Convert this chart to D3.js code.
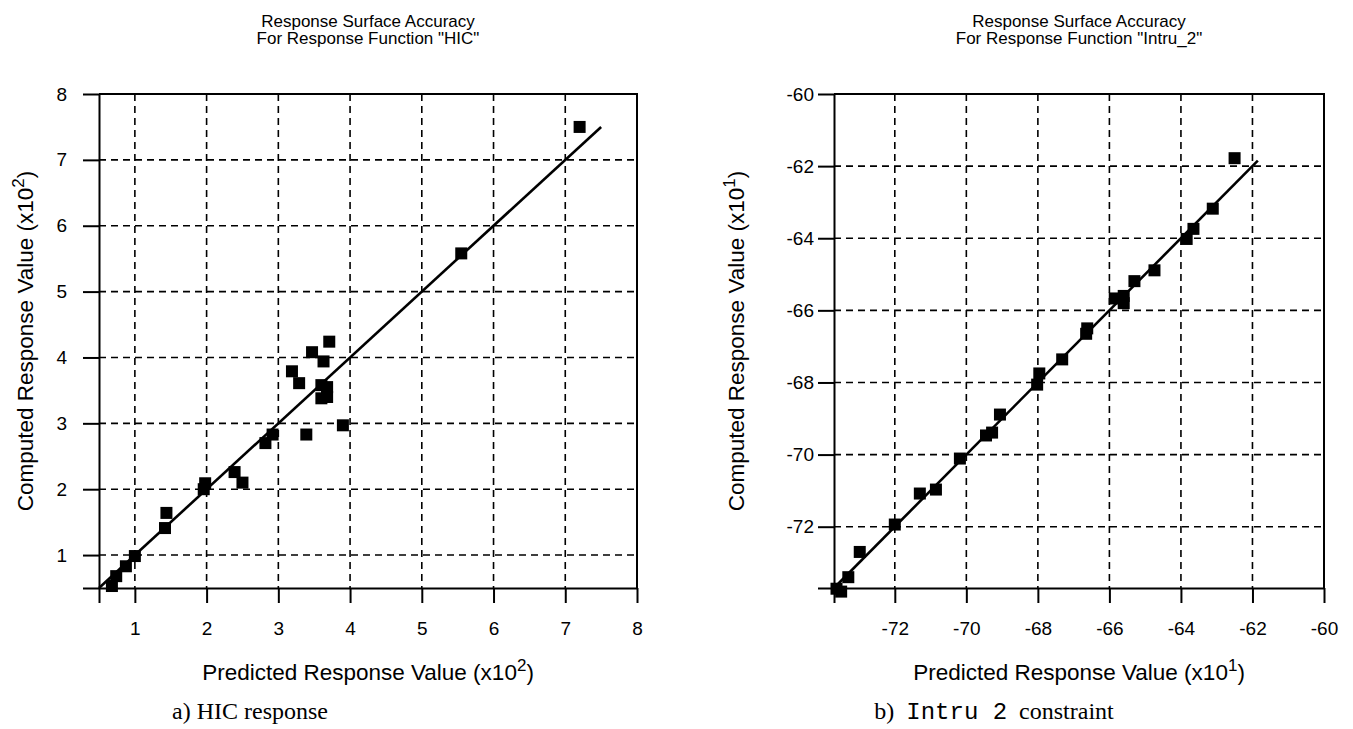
<!DOCTYPE html>
<html>
<head>
<meta charset="utf-8">
<script src="https://cdn.jsdelivr.net/npm/d3@7"></script>
<style>
  html, body { margin: 0; padding: 0; background: #fff; }
  svg { display: block; }
  text { font-family: "Liberation Sans", Arial, Helvetica, sans-serif; fill: #000; }
</style>
</head>
<body>
<svg id="chart" width="1353" height="729"></svg>
<script>
// ---------- Data ----------
const hicPredicted = [0.68, 0.74, 0.875, 1.0, 1.42, 1.44, 1.96, 1.98, 2.39, 2.5, 2.82, 2.92, 3.19, 3.29, 3.39, 3.47, 3.6, 3.6, 3.63, 3.68, 3.68, 3.71, 3.9, 5.55, 7.2];
const hicComputed  = [0.53, 0.68, 0.83, 0.985, 1.41, 1.64, 2.0, 2.09, 2.26, 2.1, 2.70, 2.83, 3.79, 3.61, 2.83, 4.08, 3.58, 3.38, 3.94, 3.55, 3.40, 4.24, 2.97, 5.58, 7.5];
const hicFitLine = [0.5, 7.5];
const hicTicks = [0.5, 1, 2, 3, 4, 5, 6, 7, 8];
const hicGrid = [1, 2, 3, 4, 5, 6, 7];

const intruPredicted = [-73.63, -73.5, -73.3, -72.98, -72.0, -71.3, -70.85, -70.18, -69.45, -69.28, -69.06, -68.02, -67.96, -67.32, -66.65, -66.62, -65.85, -65.6, -65.6, -65.3, -64.74, -63.84, -63.65, -63.11, -62.5];
const intruComputed  = [-73.72, -73.8, -73.4, -72.7, -71.94, -71.08, -70.97, -70.11, -69.47, -69.39, -68.89, -68.06, -67.75, -67.36, -66.65, -66.5, -65.67, -65.6, -65.8, -65.19, -64.89, -64.02, -63.74, -63.18, -61.78];
const intruFitLine = [-73.7, -61.85];
const intruTicks = [-73.7, -72, -70, -68, -66, -64, -62, -60];
const intruGrid = [-72, -70, -68, -66, -64, -62];

const titles1 = ["Response Surface Accuracy", "For Response Function \"HIC\""];
const titles2 = ["Response Surface Accuracy", "For Response Function \"Intru_2\""];

// ---------- Drawing ----------
const svg = d3.select("#chart");

function panel(opt) {
  const g = svg.append("g");
  const x = d3.scaleLinear().domain(opt.domain).range([opt.left, opt.right]);
  const y = d3.scaleLinear().domain(opt.domain).range([opt.bottom, opt.top]);
  const lbl = v => (opt.labelled.includes(v) ? String(v) : "");

  // grid
  g.selectAll(".vg").data(opt.grid).enter().append("line")
    .attr("x1", d => x(d)).attr("x2", d => x(d))
    .attr("y1", opt.top).attr("y2", opt.bottom)
    .attr("stroke", "#000").attr("stroke-width", 1.6).attr("stroke-dasharray", "7,5");
  g.selectAll(".hg").data(opt.grid).enter().append("line")
    .attr("y1", d => y(d)).attr("y2", d => y(d))
    .attr("x1", opt.left).attr("x2", opt.right)
    .attr("stroke", "#000").attr("stroke-width", 1.6).attr("stroke-dasharray", "7,5");

  // frame top & right
  g.append("line").attr("x1", opt.left).attr("x2", opt.right + 1).attr("y1", opt.top).attr("y2", opt.top)
    .attr("stroke", "#000").attr("stroke-width", 2);
  g.append("line").attr("x1", opt.right).attr("x2", opt.right).attr("y1", opt.top).attr("y2", opt.bottom)
    .attr("stroke", "#000").attr("stroke-width", 2);

  // axes
  const xa = g.append("g").attr("transform", `translate(0,${opt.bottom})`)
    .call(d3.axisBottom(x).tickValues(opt.ticks).tickSize(15).tickSizeOuter(0).tickPadding(19).tickFormat(lbl));
  const ya = g.append("g").attr("transform", `translate(${opt.left},0)`)
    .call(d3.axisLeft(y).tickValues(opt.ticks).tickSize(16).tickSizeOuter(0).tickPadding(opt.yPad).tickFormat(lbl));
  [xa, ya].forEach(a => {
    a.select(".domain").attr("stroke-width", 2);
    a.selectAll(".tick line").attr("stroke-width", 2);
    a.selectAll(".tick text").style("font-size", "19px").style("font-family", "\"Liberation Sans\", Arial, sans-serif");
  });

  // fit line
  g.append("line")
    .attr("x1", x(opt.fit[0])).attr("y1", y(opt.fit[0]))
    .attr("x2", x(opt.fit[1])).attr("y2", y(opt.fit[1]))
    .attr("stroke", "#000").attr("stroke-width", 2.6);

  // points
  const s = 12;
  g.selectAll(".pt").data(opt.px.map((v, i) => [v, opt.py[i]])).enter().append("rect")
    .attr("x", d => x(d[0]) - s / 2).attr("y", d => y(d[1]) - s / 2)
    .attr("width", s).attr("height", s).attr("fill", "#000");

  const cx = (opt.left + opt.right) / 2;
  const cy = (opt.top + opt.bottom) / 2;

  // title
  opt.title.forEach((t, i) => {
    g.append("text").attr("x", cx).attr("y", 27 + i * 17).attr("text-anchor", "middle")
      .style("font-size", "17px").text(t);
  });

  // x label
  const xl = g.append("text").attr("x", cx).attr("y", 680).attr("text-anchor", "middle").style("font-size", "22.5px");
  xl.append("tspan").text(`Predicted Response Value (x10`);
  xl.append("tspan").attr("dy", -9).style("font-size", "17px").text(opt.exp);
  xl.append("tspan").attr("dy", 9).text(")");

  // y label
  const yl = g.append("text").attr("transform", `translate(${opt.yLabelX},${cy}) rotate(-90)`)
    .attr("text-anchor", "middle").style("font-size", "22.5px");
  yl.append("tspan").text(`Computed Response Value (x10`);
  yl.append("tspan").attr("dy", -9).style("font-size", "17px").text(opt.exp);
  yl.append("tspan").attr("dy", 9).text(")");

  // caption
  const cap = g.append("text").attr("x", opt.capX).attr("y", 719).attr("text-anchor", "middle")
    .style("font-family", "\"Liberation Serif\", \"Times New Roman\", serif").style("font-size", "24px");
  opt.caption(cap);
}

panel({
  domain: [0.5, 8], left: 99, right: 637, top: 94, bottom: 588,
  ticks: hicTicks, labelled: [1, 2, 3, 4, 5, 6, 7, 8], grid: hicGrid,
  px: hicPredicted, py: hicComputed, fit: hicFitLine,
  title: titles1, exp: "2", yLabelX: 33, yPad: 16, capX: 250,
  caption: t => t.text("a) HIC response")
});

panel({
  domain: [-73.7, -60], left: 834, right: 1324, top: 94, bottom: 588,
  ticks: intruTicks, labelled: [-72, -70, -68, -66, -64, -62, -60], grid: intruGrid,
  px: intruPredicted, py: intruComputed, fit: intruFitLine,
  title: titles2, exp: "1", yLabelX: 744, yPad: 4, capX: 994,
  caption: t => {
    t.append("tspan").text("b)\u00a0\u00a0");
    t.append("tspan").style("font-family", "\"Liberation Mono\", \"Courier New\", monospace").style("font-size", "24px").text("Intru\u00a02");
    t.append("tspan").text("\u00a0\u00a0constraint");
  }
});
</script>
</body>
</html>
